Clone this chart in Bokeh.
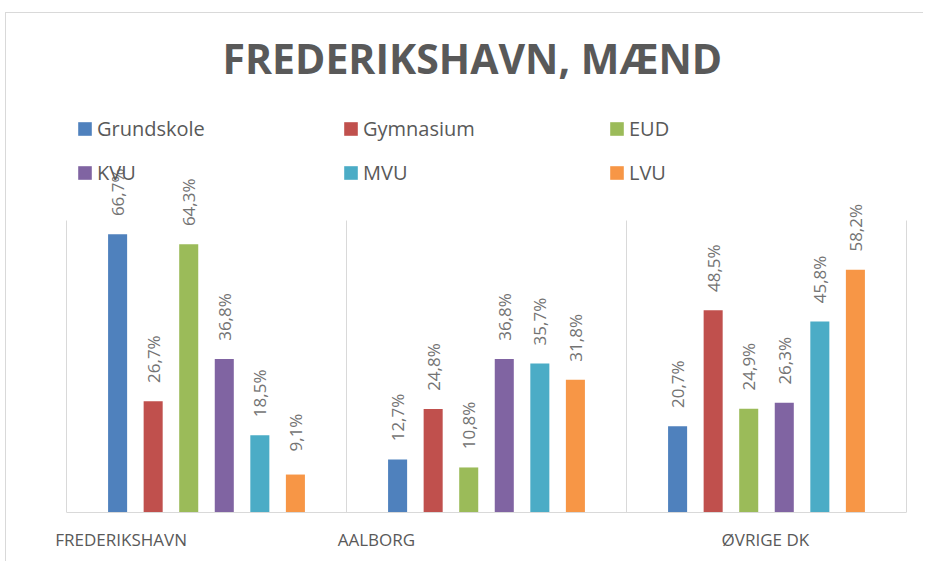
import math
from bokeh.plotting import figure
from bokeh.models import Range1d, FixedTicker, ColumnDataSource, Legend, LegendItem
from bokeh.embed import file_html
from bokeh.resources import INLINE
from bokeh.core.properties import value

# ---------------- data ----------------
categories = ["FREDERIKSHAVN", "AALBORG", "ØVRIGE DK"]
series = ["Grundskole", "Gymnasium", "EUD", "KVU", "MVU", "LVU"]
grundskole = [66.7, 12.7, 20.7]
gymnasium = [26.7, 24.8, 48.5]
eud = [64.3, 10.8, 24.9]
kvu = [36.8, 36.8, 26.3]
mvu = [18.5, 35.7, 45.8]
lvu = [9.1, 31.8, 58.2]
title_text = "FREDERIKSHAVN, MÆND"

# ---------------- style ----------------
values = [grundskole, gymnasium, eud, kvu, mvu, lvu]
colors = ["#4F81BD", "#C0504D", "#9BBB59", "#8064A2", "#4BACC6", "#F79646"]
Y_MAX = 70
GROUP_STEP = 0.127
BAR_W = 0.068
LABEL_SHIFT = [-0.305, -0.393, -0.004]   # visual offset of category labels (as in reference)
FONT = "Open Sans"
GREY = "#595959"

p = figure(width=918, height=549, output_backend="svg", toolbar_location=None,
           x_range=Range1d(-0.2143, 3.0643), y_range=Range1d(0, 100.7),
           y_axis_location=None, min_border_left=0, min_border_right=0,
           min_border_top=79, min_border_bottom=50)
p.styles = {"margin-left": "5px", "margin-top": "12px",
            "border-left": "1px solid #D9D9D9", "border-top": "1px solid #D9D9D9"}
p.background_fill_color = "white"
p.border_fill_color = "white"
p.outline_line_color = None
p.xgrid.visible = False
p.ygrid.visible = False

p.title.text = title_text
p.title.align = "left"
p.title.text_font = FONT
p.title.text_font_size = "41px"
p.title.text_font_style = "bold"
p.title.text_color = GREY
p.title.standoff = 13
p.title.offset = 216

# category separators
seps = list(range(len(categories) + 1))
p.segment(x0=seps, y0=[0] * len(seps), x1=seps, y1=[Y_MAX] * len(seps),
          line_color="#D9D9D9", line_width=1)

items = []
for s, (name, vals, col) in enumerate(zip(series, values, colors)):
    xs = [i + 0.5 + (s - 2.5) * GROUP_STEP for i in range(len(categories))]
    labels = [f"{v:.1f}".replace(".", ",") + "%" for v in vals]
    src = ColumnDataSource(dict(x=xs, top=vals, label=labels))
    r = p.vbar(x="x", top="top", bottom=0, width=BAR_W, source=src,
               fill_color=col, line_color=None)
    p.text(x="x", y="top", text="label", source=src, angle=math.pi / 2,
           text_align="center", text_baseline="middle", y_offset=-42,
           text_font=value(FONT), text_font_size="17px", text_color="#737373")
    items.append(LegendItem(label=name, renderers=[r]))

legend = Legend(items=items, location=(70, 326), orientation="horizontal", ncols=3,
                glyph_width=17, glyph_height=17, label_standoff=4, spacing=17,
                label_width=228, padding=0, margin=0, border_line_color=None,
                background_fill_alpha=0, label_text_font=FONT,
                label_text_font_size="20px", label_text_color=GREY)
p.add_layout(legend)

ticks = [i + 0.5 + LABEL_SHIFT[i] for i in range(len(categories))]
ax = p.xaxis[0]
ax.ticker = FixedTicker(ticks=ticks)
ax.major_label_overrides = {t: c for t, c in zip(ticks, categories)}
ax.bounds = (0, len(categories))
ax.axis_line_color = "#D9D9D9"
ax.major_tick_line_color = None
ax.minor_tick_line_color = None
ax.major_label_standoff = 9
ax.major_label_text_font = FONT
ax.major_label_text_font_size = "17px"
ax.major_label_text_color = GREY

open("out.html", "w").write(file_html(p, INLINE))
